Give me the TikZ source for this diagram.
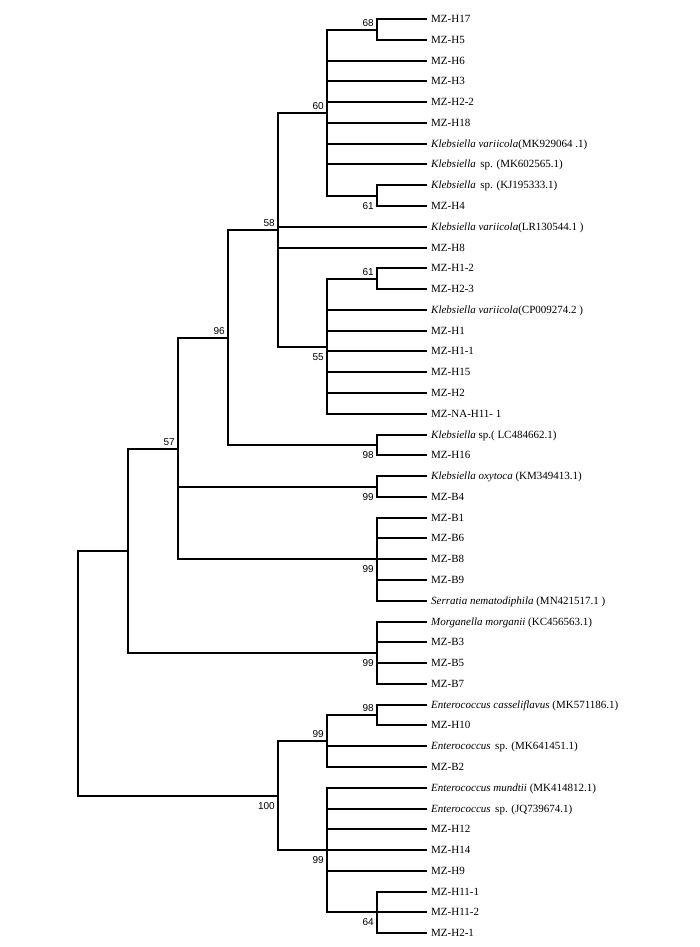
\documentclass[tikz,border=0pt]{standalone}
\usepackage{fontspec}
\usepackage{tikz}
\setmainfont{Liberation Serif}
\newfontfamily\bootfont{Liberation Sans}
\tikzset{leaf/.style={anchor=west, inner xsep=4pt, inner ysep=0pt, text height=7.3pt, text depth=0pt, font=\fontsize{11}{12}\selectfont},
boot/.style={inner sep=0pt, font=\bootfont\fontsize{10}{12}\selectfont},
bootup/.style={boot, anchor=south east, xshift=-3pt, yshift=3pt},
bootdown/.style={boot, anchor=north east, xshift=-3pt, yshift=-6pt},
branch/.style={line width=1.5pt}}

\begin{document}
\begin{tikzpicture}[x=1pt, y=-1pt]
\useasboundingbox (0,0) rectangle (700,947);
% leaves
\node (n1) [leaf] at (427,19) {MZ-H17};
\node (n2) [leaf] at (427,40) {MZ-H5};
\node (n3) [leaf] at (427,61) {MZ-H6};
\node (n4) [leaf] at (427,81) {MZ-H3};
\node (n5) [leaf] at (427,102) {MZ-H2-2};
\node (n6) [leaf] at (427,123) {MZ-H18};
\node (n7) [leaf] at (427,144) {\textit{Klebsiella variicola}(MK929064 .1)};
\node (n8) [leaf] at (427,164) {\textit{Klebsiella}\, sp. (MK602565.1)};
\node (n9) [leaf] at (427,185) {\textit{Klebsiella}\, sp. (KJ195333.1)};
\node (n10) [leaf] at (427,206) {MZ-H4};
\node (n11) [leaf] at (427,227) {\textit{Klebsiella variicola}(LR130544.1 )};
\node (n12) [leaf] at (427,248) {MZ-H8};
\node (n13) [leaf] at (427,268) {MZ-H1-2};
\node (n14) [leaf] at (427,289) {MZ-H2-3};
\node (n15) [leaf] at (427,310) {\textit{Klebsiella variicola}(CP009274.2 )};
\node (n16) [leaf] at (427,331) {MZ-H1};
\node (n17) [leaf] at (427,351) {MZ-H1-1};
\node (n18) [leaf] at (427,372) {MZ-H15};
\node (n19) [leaf] at (427,393) {MZ-H2};
\node (n20) [leaf] at (427,414) {MZ-NA-H11- 1};
\node (n21) [leaf] at (427,435) {\textit{Klebsiella} sp.( LC484662.1)};
\node (n22) [leaf] at (427,455) {MZ-H16};
\node (n23) [leaf] at (427,476) {\textit{Klebsiella oxytoca} (KM349413.1)};
\node (n24) [leaf] at (427,497) {MZ-B4};
\node (n25) [leaf] at (427,518) {MZ-B1};
\node (n26) [leaf] at (427,538) {MZ-B6};
\node (n27) [leaf] at (427,559) {MZ-B8};
\node (n28) [leaf] at (427,580) {MZ-B9};
\node (n29) [leaf] at (427,601) {\textit{Serratia nematodiphila} (MN421517.1 )};
\node (n30) [leaf] at (427,622) {\textit{Morganella morganii} (KC456563.1)};
\node (n31) [leaf] at (427,642) {MZ-B3};
\node (n32) [leaf] at (427,663) {MZ-B5};
\node (n33) [leaf] at (427,684) {MZ-B7};
\node (n34) [leaf] at (427,705) {\textit{Enterococcus casseliflavus} (MK571186.1)};
\node (n35) [leaf] at (427,725) {MZ-H10};
\node (n36) [leaf] at (427,746) {\textit{Enterococcus}\, sp. (MK641451.1)};
\node (n37) [leaf] at (427,767) {MZ-B2};
\node (n38) [leaf] at (427,788) {\textit{Enterococcus mundtii} (MK414812.1)};
\node (n39) [leaf] at (427,809) {\textit{Enterococcus}\, sp. (JQ739674.1)};
\node (n40) [leaf] at (427,829) {MZ-H12};
\node (n41) [leaf] at (427,850) {MZ-H14};
\node (n42) [leaf] at (427,871) {MZ-H9};
\node (n43) [leaf] at (427,892) {MZ-H11-1};
\node (n44) [leaf] at (427,912) {MZ-H11-2};
\node (n45) [leaf] at (427,933) {MZ-H2-1};
% inner nodes
\coordinate (k0) at (78,674);
\coordinate (k1) at (128,551);
\coordinate (k2) at (178,449);
\coordinate (k3) at (228,338);
\coordinate (k4) at (278,230);
\coordinate (k5) at (327,113);
\coordinate (k6) at (377,30);
\coordinate (k7) at (377,196);
\coordinate (k8) at (327,347);
\coordinate (k9) at (377,279);
\coordinate (k10) at (377,445);
\coordinate (k11) at (377,487);
\coordinate (k12) at (377,559);
\coordinate (k13) at (377,653);
\coordinate (k14) at (278,796);
\coordinate (k15) at (327,741);
\coordinate (k16) at (377,715);
\coordinate (k17) at (327,850);
\coordinate (k18) at (377,912);
% bootstrap values
\node (s2) [bootup] at (k2) {57};
\node (s3) [bootup] at (k3) {96};
\node (s4) [bootup] at (k4) {58};
\node (s5) [bootup] at (k5) {60};
\node (s6) [bootup] at (k6) {68};
\node (s7) [bootdown] at (k7) {61};
\node (s8) [bootdown] at (k8) {55};
\node (s9) [bootup] at (k9) {61};
\node (s10) [bootdown] at (k10) {98};
\node (s11) [bootdown] at (k11) {99};
\node (s12) [bootdown] at (k12) {99};
\node (s13) [bootdown] at (k13) {99};
\node (s14) [bootdown] at (k14) {100};
\node (s15) [bootup] at (k15) {99};
\node (s16) [bootup] at (k16) {98};
\node (s17) [bootdown] at (k17) {99};
\node (s18) [bootdown] at (k18) {64};
% branches
\draw [branch] (k0) |- (k1) (k0) |- (k14);
\draw [branch] (k1) |- (k2) (k1) |- (k13);
\draw [branch] (k2) |- (k3) (k2) |- (k11) (k2) |- (k12);
\draw [branch] (k3) |- (k4) (k3) |- (k10);
\draw [branch] (k4) |- (k5) (k4) |- (n11) (k4) |- (n12) (k4) |- (k8);
\draw [branch] (k5) |- (k6) (k5) |- (n3) (k5) |- (n4) (k5) |- (n5) (k5) |- (n6) (k5) |- (n7) (k5) |- (n8) (k5) |- (k7);
\draw [branch] (k6) |- (n1) (k6) |- (n2);
\draw [branch] (k7) |- (n9) (k7) |- (n10);
\draw [branch] (k8) |- (k9) (k8) |- (n15) (k8) |- (n16) (k8) |- (n17) (k8) |- (n18) (k8) |- (n19) (k8) |- (n20);
\draw [branch] (k9) |- (n13) (k9) |- (n14);
\draw [branch] (k10) |- (n21) (k10) |- (n22);
\draw [branch] (k11) |- (n23) (k11) |- (n24);
\draw [branch] (k12) |- (n25) (k12) |- (n26) (k12) |- (n27) (k12) |- (n28) (k12) |- (n29);
\draw [branch] (k13) |- (n30) (k13) |- (n31) (k13) |- (n32) (k13) |- (n33);
\draw [branch] (k14) |- (k15) (k14) |- (k17);
\draw [branch] (k15) |- (k16) (k15) |- (n36) (k15) |- (n37);
\draw [branch] (k16) |- (n34) (k16) |- (n35);
\draw [branch] (k17) |- (n38) (k17) |- (n39) (k17) |- (n40) (k17) |- (n41) (k17) |- (n42) (k17) |- (k18);
\draw [branch] (k18) |- (n43) (k18) |- (n44) (k18) |- (n45);
\end{tikzpicture}
\end{document}
